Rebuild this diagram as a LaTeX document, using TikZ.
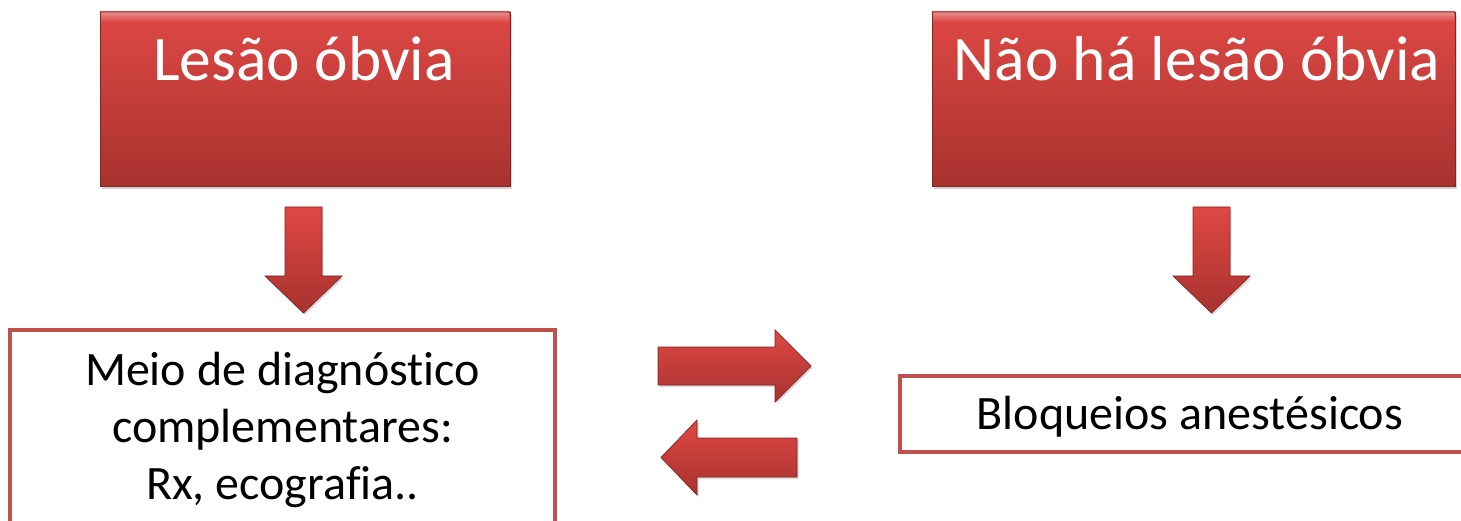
\documentclass[tikz,border=0pt]{standalone}
\usepackage{fontspec}
\setmainfont{Carlito}[Ligatures=NoCommon]
\usetikzlibrary{shadows}
\definecolor{redtop}{RGB}{222,72,68}
\definecolor{redbot}{RGB}{168,50,47}
\definecolor{rededge}{RGB}{130,36,34}
\definecolor{frame}{RGB}{192,80,77}
\tikzset{
  redbox/.style={rectangle, top color=redtop, bottom color=redbot, draw=rededge, line width=0.6pt,
    drop shadow={shadow xshift=2pt, shadow yshift=-3pt, opacity=0.35}},
  whitebox/.style={rectangle, draw=frame, line width=4.5pt, fill=white},
  blockarrow/.style={top color=redtop, bottom color=redbot, draw=rededge, line width=0.7pt, line join=miter,
    drop shadow={shadow xshift=1.5pt, shadow yshift=-2pt, opacity=0.3}},
  bigtxt/.style={text=white, anchor=base, inner sep=0pt, font=\fontsize{63.5}{76}\selectfont},
  smalltxt/.style={text=black, anchor=base, inner sep=0pt, font=\fontsize{48}{57}\selectfont},
}
\begin{document}
\begin{tikzpicture}[x=1pt,y=-1pt]
\useasboundingbox (0,0) rectangle (1461,521);
\clip (0,0) rectangle (1461,521);
% red boxes
\node[redbox, minimum width=410pt, minimum height=174pt] (b1) at (305,99) {};
\node[redbox, minimum width=523pt, minimum height=174pt] (b2) at (1193.5,99) {};
\path[top color=white, bottom color=redtop, opacity=0.35] (101,13) rectangle (509,22);
\path[top color=white, bottom color=redtop, opacity=0.35] (933,13) rectangle (1454,22);
\node[bigtxt] (t1) at (304,81) {Lesão óbvia};
\node[bigtxt] (t2) at (1197,81) {Não há lesão óbvia};
% white boxes
\node[whitebox, minimum width=545pt, minimum height=230pt] (b3) at (282.5,445) {};
\node[whitebox, minimum width=580pt, minimum height=76pt] (b4) at (1190,414) {};
\node[smalltxt] (t3a) at (282.5,385) {Meio de diagnóstico};
\node[smalltxt] (t3b) at (282.5,442) {complementares:};
\node[smalltxt] (t3c) at (282.5,499) {Rx, ecografia..};
\node[smalltxt] (t4) at (1190,429) {Bloqueios anestésicos};
% block arrows
\path[blockarrow] (285,207) -- (322,207) -- (322,276) -- (342,276) -- (303.5,313) -- (265,276) -- (285,276) -- cycle;
\path[blockarrow] (1193,207) -- (1230,207) -- (1230,276) -- (1250,276) -- (1211.5,313) -- (1173,276) -- (1193,276) -- cycle;
\path[blockarrow] (658,347) -- (775,347) -- (775,330) -- (811,366) -- (775,402) -- (775,385) -- (658,385) -- cycle;
\path[blockarrow] (797,438) -- (697,438) -- (697,420) -- (661,457.5) -- (697,495) -- (697,477) -- (797,477) -- cycle;
\end{tikzpicture}
\end{document}
